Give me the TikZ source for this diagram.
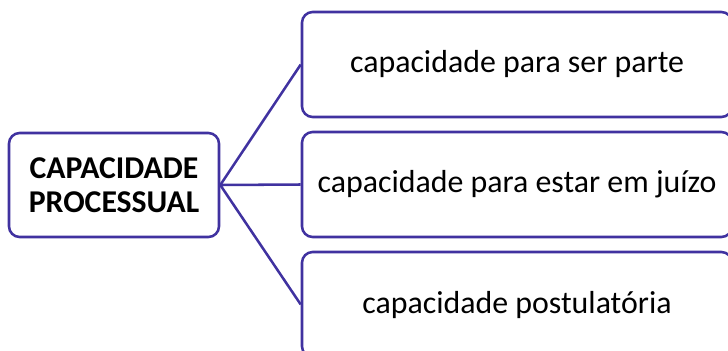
\documentclass[tikz,border=0pt]{standalone}
\usepackage{fontspec}
\setmainfont{Carlito}
\definecolor{edgec}{RGB}{64,50,160}
\begin{document}
\begin{tikzpicture}[x=0.75pt,y=-0.75pt,
  box/.style={draw=edgec,line width=1.9pt,rounded corners=8pt,fill=white,inner sep=0pt,align=center},
  conn/.style={draw=edgec,line width=1.9pt}]
\useasboundingbox (0,0) rectangle (728,350);
\begin{scope}
\clip (0,0) rectangle (728,350);
\node[box,minimum width=210*0.75pt,minimum height=104*0.75pt,font=\bfseries\fontsize{23.8}{25.5}\selectfont] (root) at (114,185) {CAPACIDADE\\PROCESSUAL};
\node[box,minimum width=430*0.75pt,minimum height=105*0.75pt,font=\fontsize{23.9}{27}\selectfont] (a) at (517,64.5) {capacidade para ser parte};
\node[box,minimum width=430*0.75pt,minimum height=105*0.75pt,font=\fontsize{23.9}{27}\selectfont] (b) at (517,184.5) {capacidade para estar em juízo};
\node[box,minimum width=430*0.75pt,minimum height=105*0.75pt,font=\fontsize{23.9}{27}\selectfont] (c) at (517,304.5) {capacidade postulatória};
\draw[conn] (root.east) -- (a.west);
\draw[conn] (root.east) -- (b.west);
\draw[conn] (root.east) -- (c.west);
\end{scope}
\end{tikzpicture}
\end{document}
